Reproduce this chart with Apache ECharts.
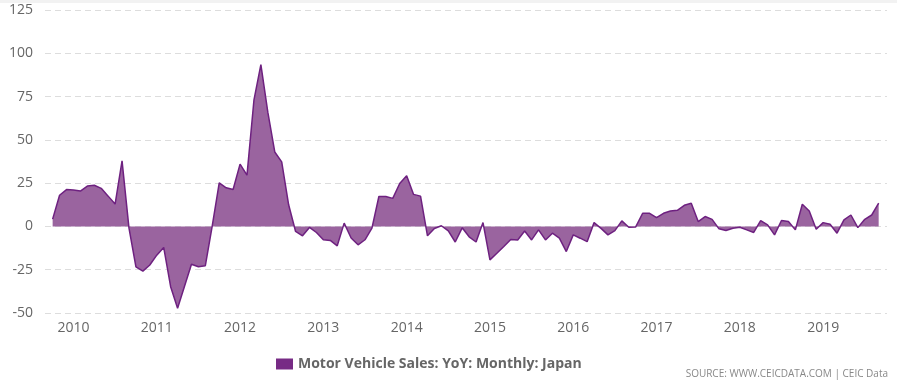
<!DOCTYPE html>
<html>
<head>
<meta charset="utf-8">
<script src="https://cdn.jsdelivr.net/npm/echarts@6/dist/echarts.min.js"></script>
<style>
html,body{margin:0;padding:0;background:#fff;}
#chart{width:897px;height:384px;}
</style>
</head>
<body>
<div id="chart"></div>
<script>
var seriesName = 'Motor Vehicle Sales: YoY: Monthly: Japan';
var categories = [
  '2009-10','2009-11','2009-12',
  '2010-01','2010-02','2010-03','2010-04','2010-05','2010-06','2010-07','2010-08','2010-09','2010-10','2010-11','2010-12',
  '2011-01','2011-02','2011-03','2011-04','2011-05','2011-06','2011-07','2011-08','2011-09','2011-10','2011-11','2011-12',
  '2012-01','2012-02','2012-03','2012-04','2012-05','2012-06','2012-07','2012-08','2012-09','2012-10','2012-11','2012-12',
  '2013-01','2013-02','2013-03','2013-04','2013-05','2013-06','2013-07','2013-08','2013-09','2013-10','2013-11','2013-12',
  '2014-01','2014-02','2014-03','2014-04','2014-05','2014-06','2014-07','2014-08','2014-09','2014-10','2014-11','2014-12',
  '2015-01','2015-02','2015-03','2015-04','2015-05','2015-06','2015-07','2015-08','2015-09','2015-10','2015-11','2015-12',
  '2016-01','2016-02','2016-03','2016-04','2016-05','2016-06','2016-07','2016-08','2016-09','2016-10','2016-11','2016-12',
  '2017-01','2017-02','2017-03','2017-04','2017-05','2017-06','2017-07','2017-08','2017-09','2017-10','2017-11','2017-12',
  '2018-01','2018-02','2018-03','2018-04','2018-05','2018-06','2018-07','2018-08','2018-09','2018-10','2018-11','2018-12',
  '2019-01','2019-02','2019-03','2019-04','2019-05','2019-06','2019-07','2019-08','2019-09'
];
var values = [
  4.2, 18, 21.3,
  21, 20.4, 23.3, 23.8, 22, 17.5, 12.9, 37.9, -1, -23.3, -25.8, -22.3,
  -16.6, -12.1, -34.8, -47.3, -34.5, -21.8, -23.3, -22.7, 0.5, 25.2, 22.3, 21.3,
  36, 29.6, 72.9, 93.5, 66, 43, 37.3, 12.5, -2.9, -5.4, -0.6, -3.5,
  -7.7, -8.1, -11.2, 1.9, -6.7, -10.6, -7.7, -1, 17.3, 17.3, 16.2, 24.8,
  29.3, 18.5, 17.5, -5.4, -1.2, 0.4, -2.6, -9, -0.8, -6, -9, 2.2,
  -19.3, -15.5, -11.6, -7.6, -7.8, -2.6, -7.8, -2, -7.8, -3.9, -6.8, -14.5,
  -4.9, -6.8, -8.8, 2.2, -1.1, -4.9, -2.4, 3.2, -0.5, -0.3, 7.6, 7.6,
  5.1, 7.6, 8.9, 9.3, 12.2, 13.4, 2.8, 5.7, 4.1, -1.4, -2.4, -1.1,
  -0.5, -2, -3.5, 3.4, 0.9, -4.9, 3.4, 2.8, -2, 12.8, 8.9, -1.6,
  2.2, 1.3, -3.9, 3.8, 6.6, -0.7, 4.1, 6.6, 13.4
];
var yearLabels = ['2010','2011','2012','2013','2014','2015','2016','2017','2018','2019'];
var yTicks = [-50, -25, 0, 25, 50, 75, 100, 125];

function monthIndex(s){
  var p = s.split('-');
  return (parseInt(p[0],10) - 2010) * 12 + (parseInt(p[1],10) - 1);
}
var seriesData = categories.map(function(c, i){ return [monthIndex(c), values[i]]; });
var yearTickValues = yearLabels.map(function(y){ return (parseInt(y,10) - 2010) * 12; });

var FONT = '"Open Sans", "DejaVu Sans", sans-serif';
var chart = echarts.init(document.getElementById('chart'), null, {renderer:'canvas'});
chart.setOption({
  animation: false,
  backgroundColor: '#ffffff',
  grid: {left: 45, right: 10, top: 10, bottom: 71, containLabel: false},
  xAxis: {
    type: 'value',
    min: -4.1,
    max: 117.2,
    axisLine: {show: false},
    axisTick: {show: false},
    splitLine: {show: false},
    axisLabel: {
      customValues: yearTickValues,
      formatter: function(v){ return String(2010 + Math.round(v / 12)); },
      color: '#666666',
      fontFamily: FONT,
      fontSize: 14,
      margin: 8
    }
  },
  yAxis: {
    type: 'value',
    min: yTicks[0],
    max: yTicks[yTicks.length - 1],
    interval: 25,
    axisLine: {show: false},
    axisTick: {show: false},
    axisLabel: {
      color: '#666666',
      fontFamily: FONT,
      fontSize: 14,
      margin: 12
    },
    splitLine: {show: true, lineStyle: {color: '#dddddd', type: [6, 4], width: 1}}
  },
  legend: {
    left: 271,
    top: 352,
    icon: 'rect',
    itemWidth: 17,
    itemHeight: 11,
    itemGap: 5,
    textStyle: {color: '#666666', fontFamily: FONT, fontSize: 14, fontWeight: 'bold'},
    data: [seriesName]
  },
  graphic: [
    {type: 'rect', left: 0, top: 0, shape: {width: 897, height: 3}, style: {fill: '#f2f2f2'}, silent: true},
    {type: 'text', right: 9, top: 369,
     style: {text: 'SOURCE: WWW.CEICDATA.COM | CEIC Data', fill: '#888888', font: '10px "Open Sans", sans-serif'}}
  ],
  series: [{
    name: seriesName,
    type: 'line',
    data: seriesData,
    showSymbol: false,
    symbol: 'none',
    itemStyle: {color: '#772b85'},
    lineStyle: {color: '#6e2180', width: 1.5},
    areaStyle: {color: '#9a649f', opacity: 1, origin: 0}
  }]
});
</script>
</body>
</html>
